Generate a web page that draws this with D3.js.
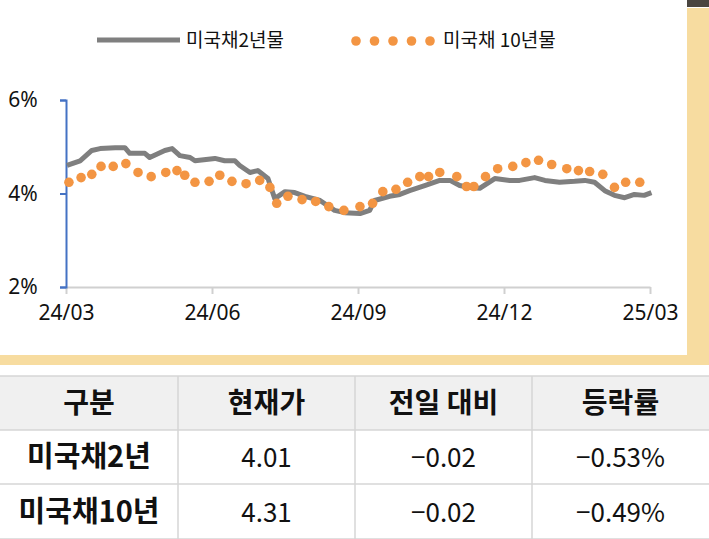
<!DOCTYPE html><html><head><meta charset="utf-8"><script src="https://cdn.jsdelivr.net/npm/d3@7"></script>
<style>body{margin:0;background:#fff}svg{display:block;font-family:"Noto Sans CJK KR","Noto Sans",sans-serif}</style></head><body>
<svg id="c" width="709" height="539"></svg>
<script>
const xTicks=[0,3,6,9,12];
const xTickLabels=["24/03","24/06","24/09","24/12","25/03"];
const yTicks=[2,4,6];
const t2=[0.02,0.29,0.53,0.70,1.01,1.21,1.31,1.62,1.72,2.03,2.18,2.34,2.55,2.65,3.06,3.26,3.47,3.57,3.78,3.94,4.15,4.29,4.50,4.70,4.91,5.22,5.52,5.73,6.04,6.24,6.34,6.65,6.86,7.06,7.37,7.68,7.89,8.09,8.30,8.50,8.81,9.12,9.32,9.63,9.84,10.14,10.45,10.66,10.86,11.07,11.27,11.48,11.68,11.88,12.03];
const v2=[4.60,4.70,4.92,4.96,4.98,4.98,4.86,4.86,4.77,4.92,4.96,4.81,4.77,4.70,4.75,4.70,4.70,4.60,4.45,4.49,4.32,3.89,4.04,4.02,3.94,3.85,3.64,3.59,3.57,3.64,3.85,3.94,3.98,4.06,4.17,4.28,4.28,4.17,4.13,4.11,4.32,4.28,4.28,4.34,4.28,4.24,4.26,4.28,4.24,4.06,3.96,3.91,3.98,3.96,4.02];
const t10=[0.06,0.31,0.53,0.72,0.97,1.23,1.48,1.75,2.05,2.28,2.44,2.65,2.94,3.16,3.41,3.70,3.98,4.19,4.33,4.56,4.85,5.13,5.40,5.71,6.04,6.30,6.51,6.78,7.02,7.27,7.45,7.68,8.03,8.23,8.38,8.62,8.87,9.18,9.45,9.71,9.98,10.29,10.53,10.76,11.03,11.27,11.50,11.79];
const v10=[4.24,4.34,4.41,4.58,4.58,4.64,4.45,4.36,4.45,4.49,4.39,4.24,4.26,4.39,4.26,4.21,4.28,4.13,3.79,3.94,3.87,3.83,3.72,3.64,3.72,3.79,4.04,4.09,4.24,4.36,4.36,4.45,4.36,4.15,4.15,4.36,4.53,4.58,4.66,4.71,4.62,4.53,4.49,4.47,4.41,4.13,4.24,4.24];
const headers=["구분","현재가","전일 대비","등락률"];
const rowNames=["미국채2년","미국채10년"];
const prices=["4.01","4.31"];
const changes=["−0.02","−0.02"];
const rates=["−0.53%","−0.49%"];

const svg=d3.select("#c");
svg.append("rect").attr("x",687).attr("y",8).attr("width",22).attr("height",357).attr("fill","#f7dca0");
svg.append("rect").attr("x",0).attr("y",355).attr("width",709).attr("height",10).attr("fill","#f7dca0");
svg.append("rect").attr("x",687).attr("y",0).attr("width",22).attr("height",7).attr("fill","#4a4540");
const x=d3.scaleLinear().domain([0,12]).range([66,650]);
const y=d3.scaleLinear().domain([2,6]).range([287,100]);
const gx=svg.append("g").attr("transform","translate(0,287)")
 .call(d3.axisBottom(x).tickValues(xTicks).tickFormat((d,i)=>xTickLabels[i]).tickSize(7).tickSizeOuter(0));
gx.select(".domain").attr("stroke","#d0d0d0").attr("stroke-width",2);
gx.selectAll("line").attr("stroke","#d0d0d0").attr("stroke-width",2);
gx.selectAll("text").attr("font-size",21).attr("fill","#111").attr("dy","1.1em").attr("font-family","Noto Sans");
const gy=svg.append("g").attr("transform","translate(66,0)")
 .call(d3.axisLeft(y).tickValues(yTicks).tickFormat(d=>d+"%").tickSize(6).tickSizeOuter(6).tickPadding(22));
gy.select(".domain").attr("stroke","#4472c4").attr("stroke-width",2);
gy.selectAll("line").attr("stroke","#4472c4").attr("stroke-width",2);
gy.selectAll("text").attr("font-size",21).attr("fill","#111").attr("text-anchor","middle").attr("x",-43).attr("font-family","Noto Sans");
svg.append("path").datum(t2.map((t,i)=>[t,v2[i]])).attr("fill","none").attr("stroke","#7f7f7f").attr("stroke-width",5)
 .attr("stroke-linejoin","round").attr("d",d3.line().x(d=>x(d[0])).y(d=>y(d[1])));
svg.selectAll("circle.d").data(t10.map((t,i)=>[t,v10[i]])).join("circle").attr("class","d")
 .attr("cx",d=>x(d[0])).attr("cy",d=>y(d[1])).attr("r",4.8).attr("fill","#f39543");
svg.append("line").attr("x1",97).attr("x2",180).attr("y1",40).attr("y2",40).attr("stroke","#7f7f7f").attr("stroke-width",5);
svg.append("text").attr("x",186).attr("y",47).attr("font-size",19).attr("fill","#111").text("미국채2년물");
svg.selectAll("circle.l").data(d3.range(5)).join("circle").attr("class","l").attr("cx",d=>356+d*18.5).attr("cy",41).attr("r",4.8).attr("fill","#f39543");
svg.append("text").attr("x",443).attr("y",47).attr("font-size",19).attr("fill","#111").text("미국채 10년물");
const cols=[0,178,355,532,709], rows=[376,430,484,539];
svg.append("rect").attr("x",0).attr("y",rows[0]).attr("width",709).attr("height",rows[1]-rows[0]).attr("fill","#f0f0f0");
rows.forEach(r=>svg.append("line").attr("x1",0).attr("x2",709).attr("y1",r).attr("y2",r).attr("stroke","#d6d6d6").attr("stroke-width",1.5));
cols.slice(1,4).forEach(c=>svg.append("line").attr("x1",c).attr("x2",c).attr("y1",rows[0]).attr("y2",539).attr("stroke","#d6d6d6").attr("stroke-width",1.5));
const cx=i=>(cols[i]+cols[i+1])/2, cy=j=>(rows[j]+rows[j+1])/2+10;
headers.forEach((h,i)=>svg.append("text").attr("x",cx(i)).attr("y",cy(0)).attr("text-anchor","middle").attr("font-size",28).attr("font-weight","bold").attr("fill","#111").text(h));
rowNames.forEach((n,j)=>{
 const vals=[n,prices[j],changes[j],rates[j]];
 vals.forEach((v,i)=>svg.append("text").attr("x",cx(i)).attr("y",cy(j+1)).attr("text-anchor","middle")
  .attr("font-size",i?26:29).attr("font-weight",i?"normal":"bold").attr("fill","#111").text(v));
});
</script></body></html>
